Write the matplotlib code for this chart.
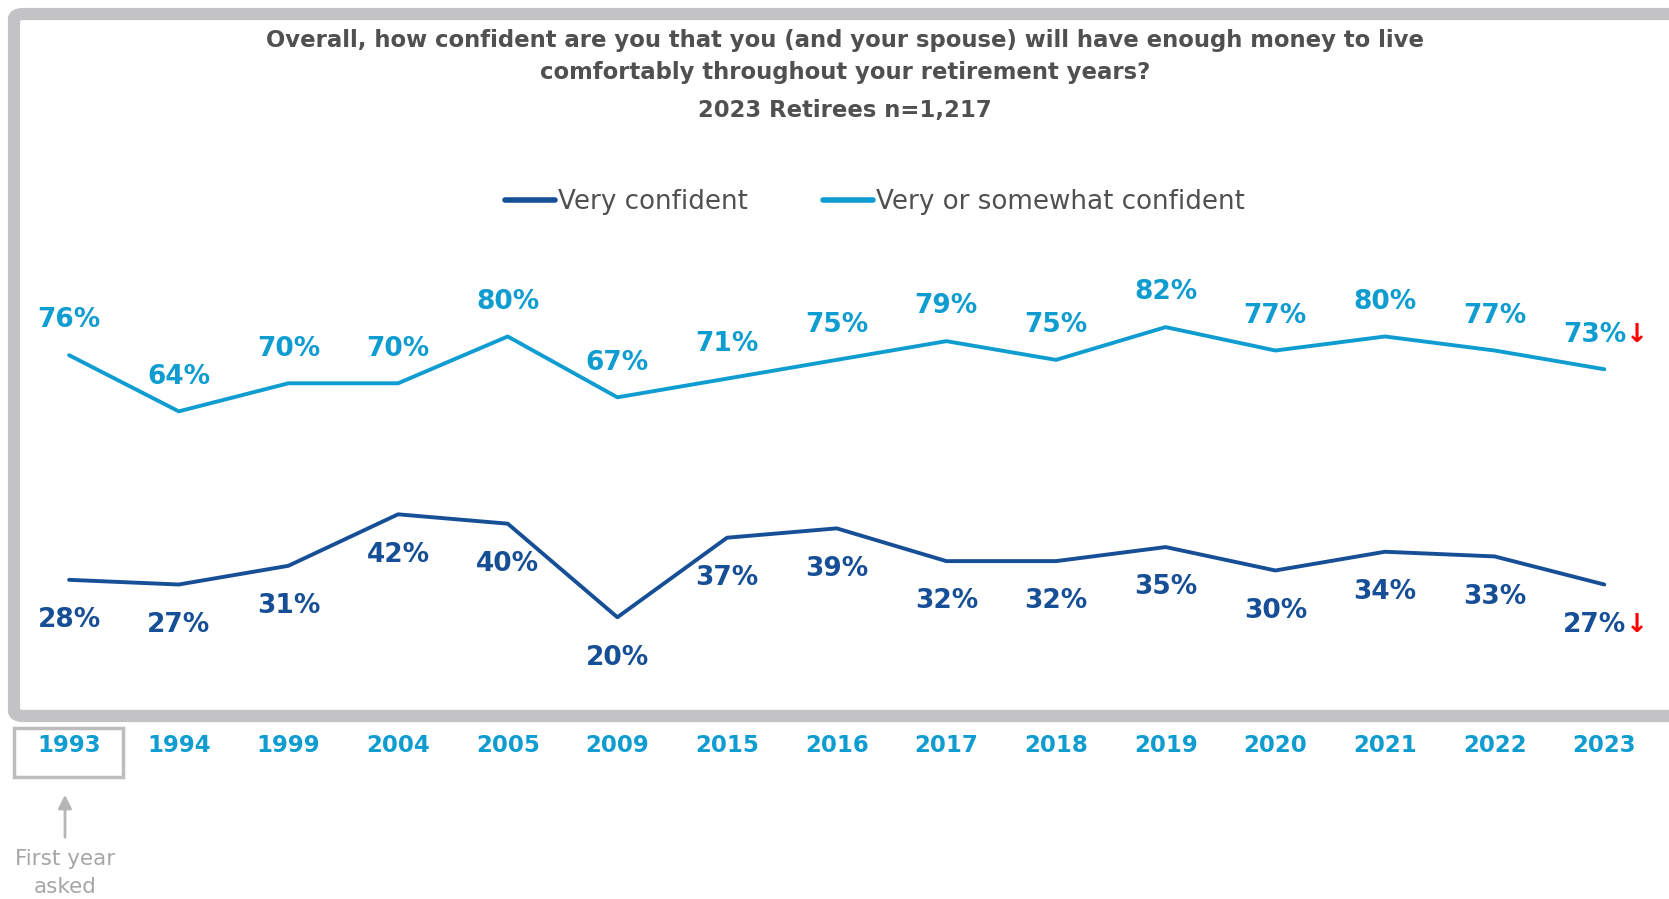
import matplotlib.pyplot as plt
from matplotlib.patches import FancyBboxPatch, Rectangle

# Data
years = ["1993", "1994", "1999", "2004", "2005", "2009", "2015", "2016",
         "2017", "2018", "2019", "2020", "2021", "2022", "2023"]
very_or_somewhat = [76, 64, 70, 70, 80, 67, 71, 75, 79, 75, 82, 77, 80, 77, 73]
very_confident = [28, 27, 31, 42, 40, 20, 37, 39, 32, 32, 35, 30, 34, 33, 27]

DARK = "#174f96"
LIGHT = "#0f9dd1"
GRAY_TXT = "#505050"

W, H = 1669, 899
fig = plt.figure(figsize=(W / 100, H / 100), dpi=100)
plt.rcParams['font.family'] = ['DejaVu Sans']

# axes covers the whole figure; limits chosen so points land where they should
ax = fig.add_axes([0, 0, 1, 1])
ax.set_xlim(-0.63, 14.59)
ax.set_ylim(-40.2, 151.9)
ax.axis("off")

# gray rounded frame (runs past the right edge)
frame = FancyBboxPatch((14 / W, 1 - 716 / H), 1700 / W, 702 / H,
                       boxstyle="round,pad=0,rounding_size=0.006",
                       transform=fig.transFigure, fill=False,
                       ec="#c3c3c5", lw=8.8, clip_on=False)
fig.add_artist(frame)

x = list(range(len(years)))
ax.plot(x, very_confident, color=DARK, lw=2.8, solid_capstyle="round",
        label="Very confident")
ax.plot(x, very_or_somewhat, color=LIGHT, lw=2.8, solid_capstyle="round",
        label="Very or somewhat confident")

last = len(years) - 1
for i in x:
    dx = -7 if i == last else 0
    t1 = ax.annotate(f"{very_or_somewhat[i]}%", (i, very_or_somewhat[i]),
                     xytext=(dx, 25), textcoords="offset points",
                     ha="center", va="center", color=LIGHT,
                     fontsize=19, fontweight="bold")
    t2 = ax.annotate(f"{very_confident[i]}%", (i, very_confident[i]),
                     xytext=(dx, -29), textcoords="offset points",
                     ha="center", va="center", color=DARK,
                     fontsize=19, fontweight="bold")
    if i == last:
        for t in (t1, t2):
            ax.annotate("↓", xy=(1, 0.5), xycoords=t, ha="left", va="center",
                        color="red", fontsize=19, fontweight="bold")
    # year labels under the frame
    ax.annotate(years[i], (i, 0), xytext=(0, -25), textcoords="offset points",
                ha="center", va="center", color=LIGHT,
                fontsize=16.5, fontweight="bold")

# box around first year
fig.add_artist(Rectangle((14 / W, 1 - 777 / H), 109 / W, 49 / H,
                         transform=fig.transFigure, fill=False,
                         ec="#bdbdbd", lw=2.5))
fig.text(65 / W, 1 - 873 / H, "First year\nasked", ha="center", va="center",
         color="#a6a6a6", fontsize=15.5, linespacing=1.45)
ax.annotate("", xy=(65 / W, 1 - 792 / H), xytext=(65 / W, 1 - 840 / H),
            xycoords="figure fraction", textcoords="figure fraction",
            arrowprops=dict(arrowstyle="-|>,head_width=0.4,head_length=0.8",
                            color="#b5b5b5", lw=2))

# title
fig.text(845 / W, 1 - 40 / H,
         "Overall, how confident are you that you (and your spouse) will have enough money to live",
         ha="center", va="center", color=GRAY_TXT, fontsize=16.4, fontweight="bold")
fig.text(845 / W, 1 - 73 / H, "comfortably throughout your retirement years?",
         ha="center", va="center", color=GRAY_TXT, fontsize=16.4, fontweight="bold")
fig.text(845 / W, 1 - 111 / H, "2023 Retirees n=1,217",
         ha="center", va="center", color=GRAY_TXT, fontsize=16.4, fontweight="bold")

leg = ax.legend(loc="center", bbox_to_anchor=(875 / W, 1 - 202 / H),
                bbox_transform=fig.transFigure, ncol=2, frameon=False,
                fontsize=18.8, handlelength=1.9, handletextpad=0.12,
                columnspacing=2.9)
for txt in leg.get_texts():
    txt.set_color(GRAY_TXT)
for ln in leg.get_lines():
    ln.set_linewidth(4)

fig.savefig("out.png", dpi=100)
